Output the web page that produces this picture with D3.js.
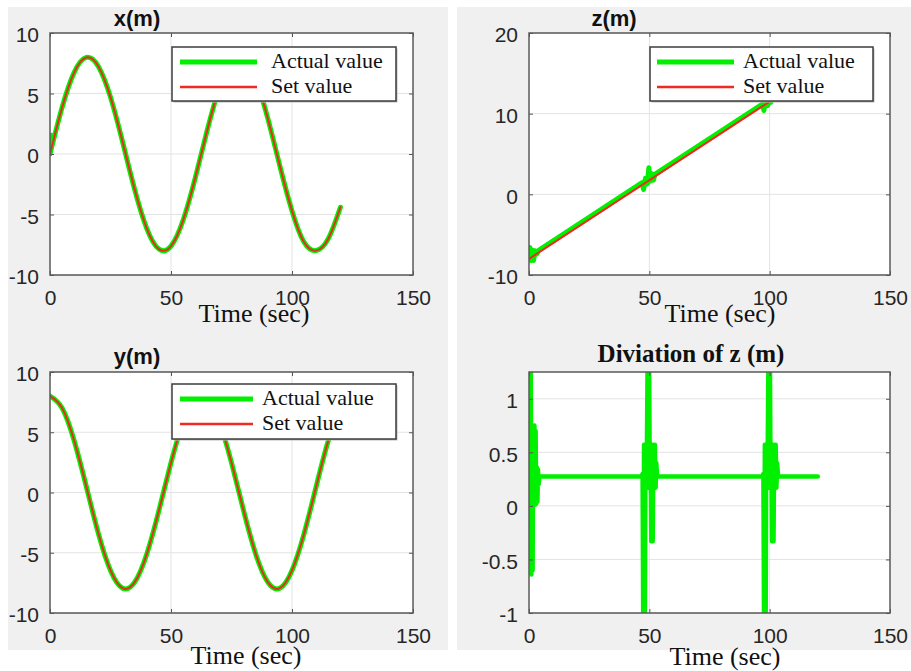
<!DOCTYPE html>
<html>
<head>
<meta charset="utf-8">
<script src="https://cdn.jsdelivr.net/npm/d3@7"></script>
<style>
  body { margin: 0; background: #fff; }
  svg { display: block; }
  .tick text { font-family: "Liberation Sans", Arial, sans-serif; font-size: 21px; fill: #262626; }
  .tick line { stroke: #555; }
</style>
</head>
<body>
<div id="chart"></div>
<script>
// ---- data ----
var xTicks = [0, 50, 100, 150];
var legendLabels = ["Actual value", "Set value"];

// common 5 s sampling used for the smooth curves
var time5 = [0, 5, 10, 15, 20, 25, 30, 35, 40, 45, 50, 55, 60, 65, 70, 75, 80, 85, 90, 95, 100, 105, 110, 115, 120];

// x(m)
var xSet = [0, 3.85, 6.75, 7.98, 7.24, 4.7, 1.0, -2.94, -6.16, -7.86, -7.61, -5.48, -1.99, 1.99, 5.48, 7.61, 7.86, 6.16, 2.94, -1.0, -4.7, -7.3, -7.98, -7.0, -4.4];
var xActual = [0, 3.85, 6.75, 7.98, 7.24, 4.7, 1.0, -2.94, -6.16, -7.86, -7.61, -5.48, -1.99, 1.99, 5.48, 7.61, 7.86, 6.16, 2.94, -1.0, -4.7, -7.3, -7.98, -7.0, -4.4];
// short start-up transient of the actual x
var timeXStart = [0, 0.6, 1.4];
var xActualStart = [0, 1.6, 1.2];

// y(m)
var ySet = [8, 7.01, 4.29, 0.5, -3.41, -6.47, -7.94, -7.44, -5.1, -1.5, 2.47, 5.83, 7.75, 7.75, 5.83, 2.47, -1.5, -5.1, -7.44, -7.94, -6.47, -3.41, 0.5, 4.29, 7.01];
var yActual = [8, 7.01, 4.29, 0.5, -3.41, -6.47, -7.94, -7.44, -5.1, -1.5, 2.47, 5.83, 7.75, 7.75, 5.83, 2.47, -1.5, -5.1, -7.44, -7.94, -6.47, -3.41, 0.5, 4.29, 7.01];

// z(m)
var timeZSet = [0, 120];
var zSet = [-8, 15.4];
var timeZActual = [0, 0.4, 0.9, 1.4, 1.9, 2.5, 3.2, 4, 47, 47.6, 48.4, 49.2, 49.8, 50.5, 51.1, 51.7, 52.4, 53.2, 97, 97.6, 98.4, 99.2, 99.8, 100.5, 101.2, 102, 120];
var zActual = [-8, -6.6, -8.2, -6.9, -8.2, -7.0, -7.4, -6.94, 1.45, 0.6, 2.0, 1.3, 3.3, 1.65, 2.56, 1.78, 2.5, 2.65, 11.2, 10.4, 11.8, 11.0, 13.0, 11.4, 12.2, 12.17, 15.68];

// deviation of z (m)
var timeDev = [
  0, 0.25, 0.5, 0.75, 1.0, 1.25, 1.5, 1.75, 2.0, 2.25, 2.5, 2.75, 3.0, 3.25, 3.5, 3.75, 4.0, 4.3,
  46.8, 47.2, 47.5, 47.8, 48.1, 48.4, 48.7, 49.0, 49.3, 49.6, 49.9, 50.2, 50.5, 50.8, 51.1, 51.4, 51.7, 52.0, 52.3, 52.6, 52.9, 53.2,
  97.0, 97.4, 97.7, 98.0, 98.3, 98.6, 98.9, 99.2, 99.5, 99.8, 100.1, 100.4, 100.7, 101.0, 101.3, 101.6, 101.9, 102.2, 102.5, 102.8, 103.1, 103.5,
  120];
var devZ = [
  0, 1.4, 0.0, 1.35, -0.64, 0.75, -0.6, 0.75, 0.01, 0.75, 0.01, 0.7, 0.02, 0.36, 0.04, 0.34, 0.2, 0.275,
  0.275, 0.3, -1.3, 0.57, -1.3, 0.57, 0.17, 0.57, 1.4, 0.17, 1.4, 0.17, 0.57, -0.33, 0.57, -0.33, 0.57, 0.17, 0.57, 0.17, 0.4, 0.275,
  0.275, 0.3, -1.3, 0.57, -1.3, 0.57, 0.17, 0.57, 1.4, 0.17, 1.4, 0.17, 0.57, -0.33, 0.57, -0.33, 0.57, 0.17, 0.57, 0.17, 0.4, 0.275,
  0.275];

var green = "#00f000";
var red = "#ee2a22";
var serif = "'Liberation Serif', 'Times New Roman', serif";
var sans = "'Liberation Sans', Arial, sans-serif";

function zip(t, v) {
  return t.map(function(d, i) { return [d, v[i]]; });
}

var svg = d3.select("#chart")
  .append("svg")
  .attr("width", 911)
  .attr("height", 671);

svg.append("rect").attr("width", 911).attr("height", 671).attr("fill", "#fff");
// grey figure backgrounds of the two columns
svg.append("rect").attr("x", 8).attr("y", 7).attr("width", 440).attr("height", 643).attr("fill", "#f0f0f0");
svg.append("rect").attr("x", 457).attr("y", 7).attr("width", 454).attr("height", 643).attr("fill", "#f0f0f0");

var panels = [
  {
    id: "px", left: 50, top: 33, width: 363, height: 242,
    yDomain: [-10, 10], yTicks: [-10, -5, 0, 5, 10],
    title: "x(m)", titleX: 137, titleY: 26, titleSerif: false,
    timeLabel: [254, 322],
    legend: { x: 172, y: 47, w: 224, h: 54, x1: 180, x2: 257, y1: 62, y2: 87, tx: 271 },
    series: [
      { data: zip(time5, xActual), color: green, width: 5, curve: d3.curveNatural },
      { data: zip(timeXStart, xActualStart), color: green, width: 4, curve: d3.curveLinear },
      { data: zip(time5, xSet), color: red, width: 2, curve: d3.curveNatural }
    ]
  },
  {
    id: "pz", left: 529, top: 33, width: 361, height: 242,
    yDomain: [-10, 20], yTicks: [-10, 0, 10, 20],
    title: "z(m)", titleX: 614, titleY: 26, titleSerif: false,
    timeLabel: [720, 322],
    legend: { x: 650, y: 47, w: 223, h: 54, x1: 657, x2: 734, y1: 62, y2: 87, tx: 743 },
    series: [
      { data: zip(timeZActual, zActual), color: green, width: 5, curve: d3.curveLinear },
      { data: zip(timeZSet, zSet), color: red, width: 2, curve: d3.curveLinear }
    ]
  },
  {
    id: "py", left: 50, top: 372, width: 363, height: 241,
    yDomain: [-10, 10], yTicks: [-10, -5, 0, 5, 10],
    title: "y(m)", titleX: 137, titleY: 364, titleSerif: false,
    timeLabel: [246, 664],
    legend: { x: 172, y: 384, w: 224, h: 55, x1: 180, x2: 253, y1: 399, y2: 424, tx: 262 },
    series: [
      { data: zip(time5, yActual), color: green, width: 5, curve: d3.curveNatural },
      { data: zip(time5, ySet), color: red, width: 2, curve: d3.curveNatural }
    ]
  },
  {
    id: "pd", left: 529, top: 372, width: 361, height: 241,
    yDomain: [-1, 1.25], yTicks: [-1, -0.5, 0, 0.5, 1],
    title: "Diviation of z (m)", titleX: 691, titleY: 362, titleSerif: true,
    timeLabel: [725, 665],
    legend: null,
    series: [
      { data: zip(timeDev, devZ), color: green, width: 4.5, curve: d3.curveLinear }
    ]
  }
];

panels.forEach(function(p) {
  var x = d3.scaleLinear().domain([0, 150]).range([0, p.width]);
  var y = d3.scaleLinear().domain(p.yDomain).range([p.height, 0]);

  var g = svg.append("g").attr("transform", `translate(${p.left}, ${p.top})`);

  g.append("rect").attr("width", p.width).attr("height", p.height).attr("fill", "#fff");

  // grid
  g.selectAll(".gx").data(xTicks.slice(1, -1)).enter().append("line")
    .attr("x1", d => x(d)).attr("x2", d => x(d))
    .attr("y1", 0).attr("y2", p.height)
    .attr("stroke", "#e3e3e3").attr("stroke-width", 1);
  g.selectAll(".gy").data(p.yTicks).enter().append("line")
    .attr("x1", 0).attr("x2", p.width)
    .attr("y1", d => y(d)).attr("y2", d => y(d))
    .attr("stroke", "#e3e3e3").attr("stroke-width", 1);

  // lines, clipped to the axes box
  g.append("clipPath").attr("id", "clip-" + p.id)
    .append("rect").attr("width", p.width).attr("height", p.height);

  var plot = g.append("g").attr("clip-path", `url(#clip-${p.id})`);
  p.series.forEach(function(s) {
    var line = d3.line().x(d => x(d[0])).y(d => y(d[1])).curve(s.curve);
    plot.append("path")
      .datum(s.data)
      .attr("d", line)
      .attr("fill", "none")
      .attr("stroke", s.color)
      .attr("stroke-width", s.width)
      .attr("stroke-linejoin", "round")
      .attr("stroke-linecap", "round");
  });

  // axes
  var bottomAxis = d3.axisBottom(x).tickValues(xTicks).tickSize(-4).tickPadding(15).tickFormat(d => String(d));
  var leftAxis = d3.axisLeft(y).tickValues(p.yTicks).tickSize(-4).tickPadding(11).tickFormat(d => String(d));

  g.append("g").attr("transform", `translate(0, ${p.height})`).call(bottomAxis);
  var ly = g.append("g").call(leftAxis);
  ly.selectAll("text").attr("dy", "0.42em");
  g.append("g").call(d3.axisTop(x).tickValues(xTicks).tickSize(-4).tickFormat(""));
  g.append("g").attr("transform", `translate(${p.width}, 0)`)
    .call(d3.axisRight(y).tickValues(p.yTicks).tickSize(-4).tickFormat(""));
  g.selectAll(".domain").remove();

  g.append("rect").attr("width", p.width).attr("height", p.height)
    .attr("fill", "none").attr("stroke", "#5a5a5a").attr("stroke-width", 1.5);

  // legend
  if (p.legend) {
    var L = p.legend;
    svg.append("rect").attr("x", L.x + 1.5).attr("y", L.y + 1.5).attr("width", L.w).attr("height", L.h)
      .attr("fill", "#bbb");
    svg.append("rect").attr("x", L.x).attr("y", L.y).attr("width", L.w).attr("height", L.h)
      .attr("fill", "#fff").attr("stroke", "#3c3c3c").attr("stroke-width", 1.5);
    [[L.y1, green, 5], [L.y2, red, 2.5]].forEach(function(r, i) {
      svg.append("line").attr("x1", L.x1).attr("x2", L.x2).attr("y1", r[0]).attr("y2", r[0])
        .attr("stroke", r[1]).attr("stroke-width", r[2]);
      svg.append("text").attr("x", L.tx).attr("y", r[0] + 6)
        .style("font-family", serif)
        .style("font-size", "22px").attr("fill", "#111")
        .text(legendLabels[i]);
    });
  }

  // title
  svg.append("text")
    .attr("x", p.titleX).attr("y", p.titleY)
    .attr("text-anchor", "middle")
    .style("font-family", p.titleSerif ? serif : sans)
    .style("font-size", p.titleSerif ? "25px" : "22px")
    .style("font-weight", "bold")
    .attr("fill", "#111")
    .text(p.title);

  // x axis label
  svg.append("text")
    .attr("x", p.timeLabel[0]).attr("y", p.timeLabel[1])
    .attr("text-anchor", "middle")
    .style("font-family", serif)
    .style("font-size", "26px")
    .attr("fill", "#111")
    .text("Time (sec)");
});
</script>
</body>
</html>
